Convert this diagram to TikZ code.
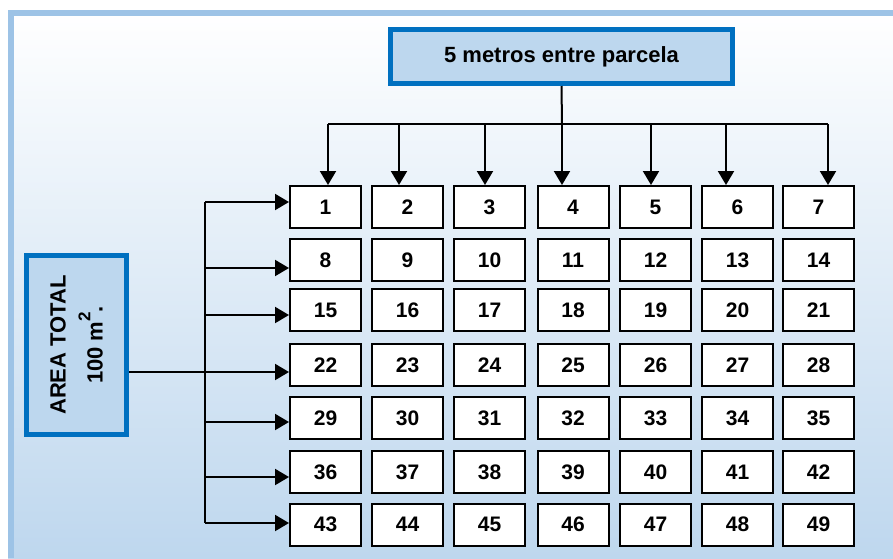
\documentclass[tikz,border=0pt]{standalone}
\usepackage{fontspec}
\setmainfont{Liberation Sans}
\usetikzlibrary{arrows.meta}
\definecolor{frameblue}{RGB}{157,195,230}
\definecolor{paleblue}{RGB}{189,215,238}
\definecolor{deepblue}{RGB}{0,112,192}
\definecolor{bgbottom}{RGB}{190,215,238}
\tikzset{
  cell/.style={draw=black, line width=2pt, fill=white, minimum width=71pt,
    minimum height=42pt, inner sep=0pt, font=\fontsize{21}{25}\selectfont\bfseries},
  titlebox/.style={draw=deepblue, line width=5pt, fill=paleblue, inner sep=0pt},
  link/.style={draw=black, line width=2pt},
  arr/.style={link, -{Triangle[length=14pt,width=16pt]}}
}
\begin{document}
\begin{tikzpicture}[x=1pt,y=-1pt]
\useasboundingbox (0,0) rectangle (893,558);
% page background and frame
\fill[white] (0,0) rectangle (893,558);
\shade[top color=white, bottom color=bgbottom] (8,10) rectangle (893,558);
\fill[frameblue] (8,10) rectangle (893,16);
\fill[frameblue] (8,10) rectangle (14,558);

% header box
\node[titlebox, minimum width=342pt, minimum height=54pt,
  font=\fontsize{22}{26}\selectfont\bfseries] (top) at (561.5,56.5) {5 metros entre parcela};

% side box
\node[titlebox, minimum width=100pt, minimum height=179pt] (area) at (76.5,345) {};
\node[rotate=90, align=center, inner sep=0pt,
  font=\fontsize{22}{37}\selectfont\bfseries] (areatxt) at (area.center)
  {AREA TOTAL\\100 m\raisebox{0.55em}{\fontsize{17}{20}\selectfont 2}.};

% grid of plots
\def\colx{{325.5,407.5,489.5,573,655.5,737.5,818.5}}
\def\rowy{{207,260,310,365,418,472,524.5}}
\foreach \r in {1,...,7}{
  \foreach \c in {1,...,7}{
    \pgfmathsetmacro{\xx}{\colx[\c-1]}
    \pgfmathsetmacro{\yy}{\rowy[\r-1]}
    \pgfmathtruncatemacro{\n}{(\r-1)*7+\c}
    \node[cell] (c\r-\c) at (\xx,\yy) {\n};
  }
}

% distribution from the header box to the columns
\coordinate (hub) at (562,124);
\draw[link] (top.south) -- (hub);
\coordinate (t1) at (328,124);
\coordinate (t2) at (399,124);
\coordinate (t3) at (485,124);
\coordinate (t4) at (562,124);
\coordinate (t5) at (651,124);
\coordinate (t6) at (726,124);
\coordinate (t7) at (828,124);
\draw[link] (t1) -- (t7);
\foreach \c in {1,...,7}{
  \draw[arr] (t\c) -- (t\c |- c1-\c.north);
}

% distribution from the side box to the rows
\coordinate (l1) at (205,202);
\coordinate (l2) at (205,268);
\coordinate (l3) at (205,315);
\coordinate (l4) at (205,372);
\coordinate (l5) at (205,422);
\coordinate (l6) at (205,477);
\coordinate (l7) at (205,523);
\draw[link] (l1) -- (l7);
\draw[link] (area.east |- l4) -- (l4);
\foreach \r in {1,...,7}{
  \draw[arr] (l\r) -- (l\r -| c\r-1.west);
}
\end{tikzpicture}
\end{document}
